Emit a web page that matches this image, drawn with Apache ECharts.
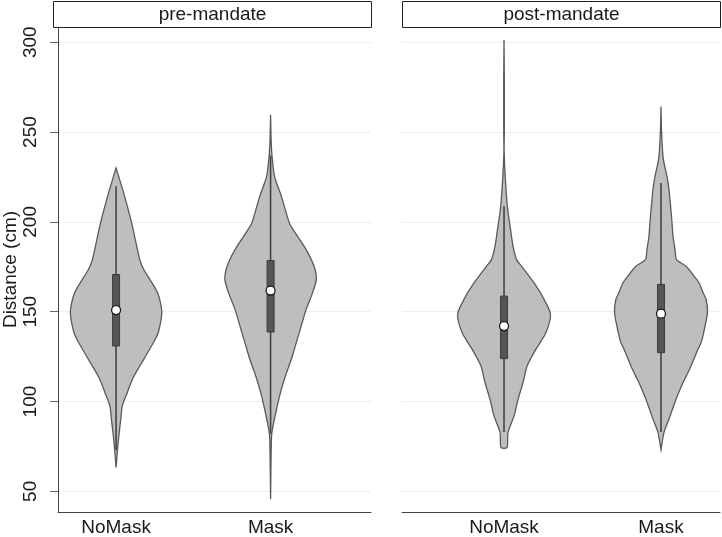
<!DOCTYPE html>
<html>
<head>
<meta charset="utf-8">
<script src="https://cdn.jsdelivr.net/npm/echarts@6/dist/echarts.min.js"></script>
<style>
  html, body { margin: 0; padding: 0; background: #fff; }
  #chart { width: 722px; height: 537px; }
</style>
</head>
<body>
<div id="chart"></div>
<script>
// panels and groups
const panels = ['pre-mandate', 'post-mandate'];
const groups = ['NoMask', 'Mask'];
const yTicks = [50, 100, 150, 200, 250, 300];

// violin outlines: [distance, density] (density relative, scaled to max width)
const preNoMaskShape = [
  [230, 0], [225, 2.8], [216, 7.7], [200, 15.5], [179, 24], [173.5, 28],
  [160.5, 42], [150, 46.3], [139, 43], [134, 39], [123.5, 28], [113, 17],
  [104.5, 11], [97.6, 6.3], [90, 4.7], [81, 2.8], [73.5, 1.5], [63.3, 0]
];
const preMaskShape = [
  [259.6, 0], [245, 0.6], [236.5, 1.5], [225.3, 4], [214.2, 11], [199.4, 19],
  [193.9, 25], [184.6, 36], [175.3, 44], [168, 46.3], [160.5, 42.5], [151.3, 36],
  [142, 31], [132.8, 26], [123.5, 21], [114.2, 15], [105, 10], [95.7, 6],
  [86.4, 2.5], [80.9, 1], [65, 0.4], [45.7, 0]
];
const postNoMaskShape = [
  [301.3, 0], [280, 0.3], [250, 0.3], [240, 0.1], [227, 1], [208.7, 3.3],
  [195.7, 6.5], [186.4, 9], [179, 12.5], [175.3, 17.5], [166, 30], [156.8, 40],
  [148.5, 46.3], [138.3, 41.7], [129, 31.7], [119.8, 23], [110.6, 19],
  [101.3, 14], [92, 10], [82.8, 4], [74.4, 3]
];
const postMaskShape = [
  [264.2, 0], [250, 0.6], [236.5, 2], [231, 3.7], [225.3, 6], [218, 8],
  [212, 9], [203, 10.5], [192, 12], [184.6, 14], [179, 15.5], [175.3, 25],
  [169.8, 33], [166, 38], [160.5, 42], [156.8, 45], [149.4, 46.3],
  [138.3, 42.5], [132.8, 40], [129, 36.7], [119.8, 30], [114, 25],
  [110.6, 22], [101.3, 15], [91, 8.5], [82.8, 3], [73.1, 0]
];

// box stats: [lower whisker, q1, median, q3, upper whisker]
const preNoMaskBox = [73, 130.9, 150.9, 170.7, 219.8];
const preMaskBox = [82, 138.7, 161.8, 178.5, 237];
const postNoMaskBox = [83, 123.9, 142, 158.7, 208.7];
const postMaskBox = [83, 127.2, 148.9, 165.2, 221.7];

const violins = [
  [{ shape: preNoMaskShape, box: preNoMaskBox }, { shape: preMaskShape, box: preMaskBox }],
  [{ shape: postNoMaskShape, box: postNoMaskBox }, { shape: postMaskShape, box: postMaskBox }]
];

const HALF = 0.296; // max half width of a violin, in x units
const FONT = '"Liberation Sans", Arial, Helvetica, sans-serif';

const chart = echarts.init(document.getElementById('chart'));

const makeRender = (panel) => (params, api) => {
  const x = api.value(0);
  const v = violins[panel][api.value(1)];
  const maxD = Math.max(...v.shape.map(p => p[1]));
  const cx = api.coord([x, 100])[0];
  const halfPx = api.coord([x + HALF, 100])[0] - cx;

  const right = v.shape.map(p => [cx + p[1] / maxD * halfPx, api.coord([x, p[0]])[1]]);
  const left = v.shape.slice().reverse().map(p => [cx - p[1] / maxD * halfPx, api.coord([x, p[0]])[1]]);

  const b = v.box.map(val => api.coord([x, val])[1]);

  return {
    type: 'group',
    children: [
      {
        type: 'polygon',
        shape: { points: right.concat(left), smooth: 0.25 },
        style: { fill: '#bebebe', stroke: '#5a5a5a', lineWidth: 1.3 }
      },
      {
        type: 'line',
        shape: { x1: cx, y1: b[0], x2: cx, y2: b[4] },
        style: { stroke: '#444', lineWidth: 1.6 }
      },
      {
        type: 'rect',
        shape: { x: cx - 3.5, y: b[3], width: 7, height: b[1] - b[3] },
        style: { fill: '#555', stroke: '#3c3c3c', lineWidth: 1 }
      },
      {
        type: 'circle',
        shape: { cx: cx, cy: b[2], r: 4.5 },
        style: { fill: '#fff', stroke: '#1a1a1a', lineWidth: 1.3 }
      }
    ]
  };
};

const yAxisBase = {
  type: 'value',
  min: 38.5,
  max: 308.5,
  splitLine: { show: true, lineStyle: { color: '#e9f0f4', width: 1 } }
};

const option = {
  animation: false,
  backgroundColor: '#fff',
  grid: [
    { left: 53, right: 351, top: 27, bottom: 24 },
    { left: 402, right: 2, top: 27, bottom: 24 }
  ],
  xAxis: [0, 1].map(i => ({
    type: 'value',
    gridIndex: i,
    min: i === 0 ? 0.624 : 0.35,
    max: i === 0 ? 2.65 : 2.376,
    splitLine: { show: false },
    axisLine: { show: true, onZero: false, lineStyle: { color: '#444', width: 1 } },
    axisTick: { show: false },
    axisLabel: {
      customValues: [1, 2],
      formatter: (val) => groups[Math.round(val) - 1] || '',
      color: '#1a1a1a',
      fontSize: 19,
      fontFamily: FONT,
      margin: 6
    }
  })),
  yAxis: [
    Object.assign({}, yAxisBase, {
      gridIndex: 0,
      name: 'Distance (cm)',
      nameLocation: 'middle',
      nameGap: 38,
      nameTextStyle: { color: '#1a1a1a', fontSize: 19, fontFamily: FONT },
      axisLine: { show: true, lineStyle: { color: '#444', width: 1 } },
      axisTick: { show: true, length: 8, customValues: yTicks, lineStyle: { color: '#666' } },
      axisLabel: {
        customValues: yTicks,
        rotate: 90,
        color: '#1a1a1a',
        fontSize: 19,
        fontFamily: FONT,
        margin: 18
      }
    }),
    Object.assign({}, yAxisBase, {
      gridIndex: 1,
      axisLine: { show: false },
      axisTick: { show: false, customValues: yTicks },
      axisLabel: { show: false, customValues: yTicks }
    })
  ],
  graphic: panels.map((name, i) => ({
    type: 'group',
    left: i === 0 ? 53 : 402,
    top: 1,
    children: [
      {
        type: 'rect',
        shape: { x: 0, y: 0, width: 318, height: 26 },
        style: { fill: '#fff', stroke: '#222', lineWidth: 1 }
      },
      {
        type: 'text',
        x: 159,
        y: 13,
        style: {
          text: name,
          fill: '#1a1a1a',
          font: '19px ' + FONT,
          align: 'center',
          verticalAlign: 'middle'
        }
      }
    ]
  })),
  series: [0, 1].map(i => ({
    type: 'custom',
    xAxisIndex: i,
    yAxisIndex: i,
    renderItem: makeRender(i),
    encode: { x: 0, y: 1 },
    data: [[1, 0], [2, 1]]
  }))
};

chart.setOption(option);
</script>
</body>
</html>
